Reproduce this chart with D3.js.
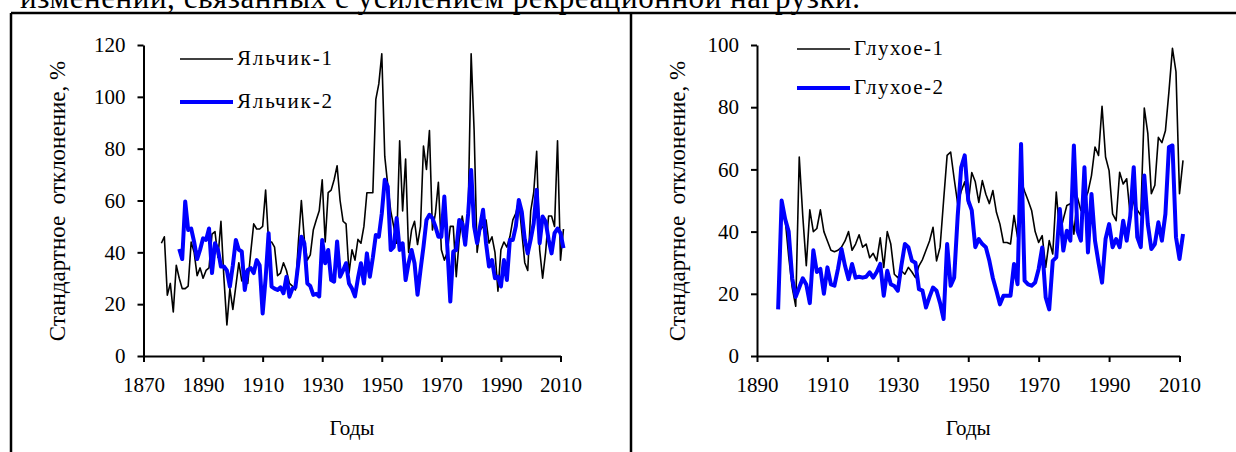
<!DOCTYPE html>
<html><head><meta charset="utf-8">
<script src="https://cdn.jsdelivr.net/npm/d3@7"></script>
<style>
body{margin:0;background:#fff;}
svg text{font-family:"Liberation Serif","Times New Roman",serif;fill:#000;}
</style></head>
<body><svg id="c" width="1236" height="452"></svg>
<script>
// ---- data ----
const caption = "изменений, связанных с усилением рекреационной нагрузки.";
const yTitle = "Стандартное  отклонение, %";
const xTitle = "Годы";

const yal1Name = "Яльчик-1";
const yal1Start = 1876;
const yal1 = [43.5,46,23.5,28,17,35,30,26,26,27,
  44,40,31,34,30,33,34,47,48,38,
  52,30,12,26,18,27,36,29,33,28,
  40,51,49,49,50,64,44,44,42,31,
  32,36,33,28,27,25.5,44,60,45,37,
  39,48.6,52.5,56,68,44,63,64,68,73.4,
  60,52,51,32,41,37,45,43.5,50,63,
  63,63,99,105,116.6,77,66,56,50,43.5,
  83,56,76,40,48.6,52,43,50,81,72,
  87,48.6,55,67,41,37,40,50,50,30.6,
  45,54,47,55,116.6,87,40,48.6,50,52.5,
  43.5,46,40,25,41,44,42,46,52.5,55,
  60,48,36,33,56,63,79,41,30,40,
  54,54,50,83,37,49];

const yal2Name = "Яльчик-2";
const yal2Start = 1882;
const yal2 = [41.3,37.4,59.6,48.6,49.2,44,37.4,41,45.4,44.8,
  49.2,32,43.5,41,34.5,34.5,33,26.8,35,44.8,
  41,40.3,25.5,33.2,33.9,32,37,35,16.4,30,
  47.4,26.8,26,25.5,26.5,24.2,30.6,22.9,26,26.5,
  36,46,43.5,28,27,23.6,24,23,44.8,35.8,
  40.9,29.3,28.7,44.2,30.6,33,35.8,28,26,23,
  30,35.8,28,39.6,30.6,38,46.7,46,55,68,
  65.4,40.9,42,53.2,40.9,43.5,29.3,35.8,40.9,35.8,
  23.6,33.2,42.2,52.5,54.5,53.2,50,46,46,61.5,
  42.2,21,40.3,40.9,52.5,51.2,42.9,55,71.8,50,
  43.5,50,56.4,43.5,34.5,37,30,30.6,26.8,37,
  29.3,44.8,44.8,50,60.2,55.7,45,39.6,45,51.2,
  64.1,43.5,53.8,51.9,45,39.6,47.4,49.2,47.4,41.6];

const glu1Name = "Глухое-1";
const glu1Start = 1898;
const glu1 = [44,32,22,16,64,45,29,47,40,41,
  47,40,37,34,33.5,34,35,37,40,34,
  36,39,35,36,31.6,33,30.6,38,28.5,40,
  36,26.3,25.2,27.4,26.3,28.5,27,25.2,29,31,
  34,37,41.4,30.6,35,50,64.5,65.6,57,49,
  53,56,49,59,56,49.4,56.4,52,49,53.2,
  46.2,42.4,36.5,36.5,36,45.2,38.2,56.4,53,50,
  46.8,40,36.5,38.7,28.5,37.1,32.8,52.7,39.2,44,
  48.4,49,39.2,51,46.8,50,52.7,58,67.2,64.5,
  80.3,64,59.6,45.7,43.5,59.1,55.3,57,45.2,50,
  47,45.2,79.7,71.6,52.2,54.9,70.3,68.6,72.4,85,
  98.9,91.4,52.2,62.9];

const glu2Name = "Глухое-2";
const glu2Start = 1896;
const glu2 = [15,50,44,40,25,19,22,25,23,17,
  34,27,28,20,28.5,23,22.6,28,34.4,29,
  24.7,29.6,25.2,25.5,25.2,25.5,26.9,25.2,27,29.6,
  19.4,27.4,23.1,22.5,21,29,36,35,30.6,30,
  21.5,21,15.6,19,22,21,17,11.9,36,22.6,
  25.2,45,60.7,64.5,50,46.8,35,37.6,36,35,
  30.6,25,21,16.6,19.4,19.4,19.4,29.6,23.1,68.2,
  24.2,23,22.6,23.6,28,34.9,18.8,15,30.6,31.7,
  47.3,33.9,40.3,37.1,67.7,40.3,37.1,60.7,33.3,52.1,
  37.1,30,23.6,37.6,42.4,35,37.6,35,43.5,37.1,
  45,60.7,38.2,35,58,42.4,34.4,36,43,37.1,
  45.7,67.2,67.7,38.2,31.2,39.2];

const leftXTicks = [1870,1890,1910,1930,1950,1970,1990,2010];
const leftYTicks = [0,20,40,60,80,100,120];
const rightXTicks = [1890,1910,1930,1950,1970,1990,2010];
const rightYTicks = [0,20,40,60,80,100];

// ---- drawing ----
const svg = d3.select("#c");

svg.append("text").attr("x",20).attr("y",8)
  .attr("font-size",31).attr("textLength",840).attr("lengthAdjust","spacing")
  .text(caption);

// frame
const frame = svg.append("g").attr("stroke","#000").attr("stroke-width",2.5).attr("fill","none");
frame.append("line").attr("x1",11).attr("x2",1236).attr("y1",13).attr("y2",13);
frame.append("line").attr("x1",11).attr("x2",11).attr("y1",13).attr("y2",452);
frame.append("line").attr("x1",631).attr("x2",631).attr("y1",13).attr("y2",452);

function toPts(start, arr){ return arr.map((v,i)=>({year:start+i, v})); }

function panel(cfg){
  const x = d3.scaleLinear().domain(cfg.xDom).range(cfg.xRange);
  const y = d3.scaleLinear().domain(cfg.yDom).range([356,45]);
  const g = svg.append("g");
  const fs = 21;

  const ya = g.append("g").attr("transform",`translate(${cfg.xRange[0]},0)`)
    .call(d3.axisLeft(y).tickValues(cfg.yTicks).tickSize(6).tickSizeOuter(0).tickPadding(12));
  const xa = g.append("g").attr("transform",`translate(0,356)`)
    .call(d3.axisBottom(x).tickValues(cfg.xTicks).tickFormat(d3.format("d")).tickSize(6).tickSizeOuter(0).tickPadding(15));
  [ya,xa].forEach(a=>{
    a.selectAll("path,line").attr("stroke","#000").attr("stroke-width",2);
    a.selectAll("text").attr("font-size",fs).attr("font-family",'"Liberation Serif","Times New Roman",serif').attr("fill","#000");
  });

  const line = d3.line().x(d=>x(d.year)).y(d=>y(d.v));
  g.append("path").datum(toPts(cfg.s1Start,cfg.s1)).attr("d",line)
    .attr("fill","none").attr("stroke","#000").attr("stroke-width",1.6).attr("stroke-linejoin","round");
  g.append("path").datum(toPts(cfg.s2Start,cfg.s2)).attr("d",line)
    .attr("fill","none").attr("stroke","#0000ff").attr("stroke-width",4).attr("stroke-linejoin","round");

  // legend
  const L = cfg.leg;
  g.append("line").attr("x1",L.x).attr("x2",L.x+53).attr("y1",L.y1).attr("y2",L.y1)
    .attr("stroke","#000").attr("stroke-width",1.6);
  g.append("line").attr("x1",L.x).attr("x2",L.x+53).attr("y1",L.y2).attr("y2",L.y2)
    .attr("stroke","#0000ff").attr("stroke-width",4);
  g.append("text").attr("x",L.x+57).attr("y",L.y1+6).attr("font-size",fs)
    .attr("textLength",L.w).attr("lengthAdjust","spacing").text(cfg.s1Name);
  g.append("text").attr("x",L.x+57).attr("y",L.y2+6).attr("font-size",fs)
    .attr("textLength",L.w).attr("lengthAdjust","spacing").text(cfg.s2Name);

  // titles
  g.append("text").attr("transform",`translate(${cfg.yTitleX},201) rotate(-90)`)
    .attr("text-anchor","middle").attr("font-size",23).style("white-space","pre")
    .text(yTitle);
  g.append("text").attr("x",(cfg.xRange[0]+cfg.xRange[1])/2).attr("y",435)
    .attr("text-anchor","middle").attr("font-size",fs).text(xTitle);
}

panel({xDom:[1870,2010], xRange:[143.5,560.5], yDom:[0,120], xTicks:leftXTicks, yTicks:leftYTicks,
  s1:yal1, s1Start:yal1Start, s1Name:yal1Name, s2:yal2, s2Start:yal2Start, s2Name:yal2Name,
  leg:{x:180,y1:59,y2:102,w:95}, yTitleX:65});
panel({xDom:[1890,2010], xRange:[757,1179.5], yDom:[0,100], xTicks:rightXTicks, yTicks:rightYTicks,
  s1:glu1, s1Start:glu1Start, s1Name:glu1Name, s2:glu2, s2Start:glu2Start, s2Name:glu2Name,
  leg:{x:797,y1:49,y2:88,w:89}, yTitleX:685});
</script></body></html>
